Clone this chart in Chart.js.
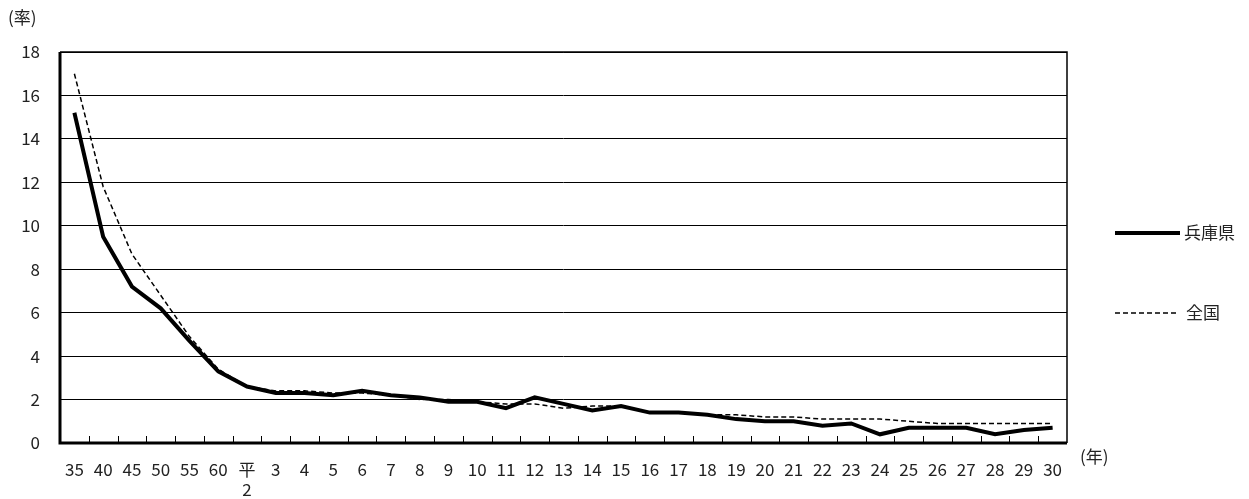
<!DOCTYPE html>
<html>
<head>
<meta charset="utf-8">
<script src="https://cdn.jsdelivr.net/npm/chart.js@4/dist/chart.umd.min.js"></script>
<style>
  body { margin: 0; background: #fff; }
  #wrap { width: 1249px; height: 499px; }
</style>
</head>
<body>
<div id="wrap"><canvas id="myChart"></canvas></div>
<script>
const years = ["35","40","45","50","55","60",["平","2"],"3","4","5","6","7","8","9","10","11","12","13","14","15","16","17","18","19","20","21","22","23","24","25","26","27","28","29","30"];
const hyogo = [15.2,9.5,7.2,6.2,4.7,3.3,2.6,2.3,2.3,2.2,2.4,2.2,2.1,1.9,1.9,1.6,2.1,1.8,1.5,1.7,1.4,1.4,1.3,1.1,1.0,1.0,0.8,0.9,0.4,0.7,0.7,0.7,0.4,0.6,0.7];
const zenkoku = [17.0,11.8,8.7,6.8,4.9,3.4,2.6,2.4,2.4,2.3,2.3,2.2,2.0,2.0,1.9,1.8,1.8,1.6,1.7,1.7,1.4,1.4,1.3,1.3,1.2,1.2,1.1,1.1,1.1,1.0,0.9,0.9,0.9,0.9,0.9];
const seriesNames = ["兵庫県", "全国"];

const font = "'Noto Sans CJK JP', 'Noto Sans', sans-serif";

// frame, inner x ticks, axis titles and legend
const extras = {
  id: "extras",
  afterDraw(chart) {
    const ctx = chart.ctx;
    const a = chart.chartArea;
    const x = chart.scales.x;
    ctx.save();
    ctx.strokeStyle = "#000";
    ctx.lineWidth = 1.5;
    ctx.beginPath();
    ctx.moveTo(a.left, a.top);
    ctx.lineTo(a.right, a.top);
    ctx.lineTo(a.right, a.bottom);
    ctx.stroke();
    ctx.lineWidth = 3;
    ctx.beginPath();
    ctx.moveTo(a.left, a.top);
    ctx.lineTo(a.left, a.bottom);
    ctx.lineTo(a.right, a.bottom);
    ctx.stroke();
    ctx.lineWidth = 1;
    for (let i = 1; i < years.length; i++) {
      const px = Math.round((x.getPixelForTick(i - 1) + x.getPixelForTick(i)) / 2) + 0.5;
      ctx.beginPath();
      ctx.moveTo(px, a.bottom);
      ctx.lineTo(px, a.bottom - 7);
      ctx.stroke();
    }
    ctx.fillStyle = "#222";
    ctx.font = "17px " + font;
    ctx.textBaseline = "middle";
    ctx.textAlign = "left";
    ctx.fillText("(率)", 8, 18);
    ctx.fillText("(年)", 1080, 457);

    // legend
    ctx.strokeStyle = "#000";
    ctx.lineWidth = 4;
    ctx.beginPath();
    ctx.moveTo(1115, 233);
    ctx.lineTo(1180, 233);
    ctx.stroke();
    ctx.lineWidth = 1.5;
    ctx.setLineDash([5, 3]);
    ctx.beginPath();
    ctx.moveTo(1115, 313);
    ctx.lineTo(1178, 313);
    ctx.stroke();
    ctx.setLineDash([]);
    ctx.fillText(seriesNames[0], 1184, 233);
    ctx.fillText(seriesNames[1], 1186, 313);
    ctx.restore();
  }
};

let myChart = new Chart(document.getElementById("myChart"), {
  type: "line",
  data: {
    labels: years,
    datasets: [{
      label: seriesNames[0],
      data: hyogo,
      borderColor: "#000",
      borderWidth: 4,
      pointRadius: 0,
      tension: 0,
      fill: false
    }, {
      label: seriesNames[1],
      data: zenkoku,
      borderColor: "#000",
      borderWidth: 1.5,
      borderDash: [5, 3],
      pointRadius: 0,
      tension: 0,
      fill: false
    }]
  },
  options: {
    responsive: true,
    maintainAspectRatio: false,
    animation: false,
    layout: { padding: { top: 52, right: 182, bottom: 0, left: 0 } },
    plugins: { legend: { display: false }, tooltip: { enabled: false } },
    scales: {
      x: {
        offset: true,
        grid: { display: false },
        border: { display: false },
        ticks: { color: "#222", font: { family: font, size: 17 }, maxRotation: 0, autoSkip: false, padding: 8, lineHeight: 1.5 },
        afterFit: (s) => { s.height = 56; }
      },
      y: {
        min: 0,
        max: 18,
        ticks: { stepSize: 2, color: "#222", font: { family: font, size: 17 }, padding: 20 },
        grid: { color: "#000", lineWidth: 1, drawTicks: false },
        border: { display: false },
        afterFit: (s) => { s.width = 60; }
      }
    }
  },
  plugins: [extras]
});
</script>
</body>
</html>
